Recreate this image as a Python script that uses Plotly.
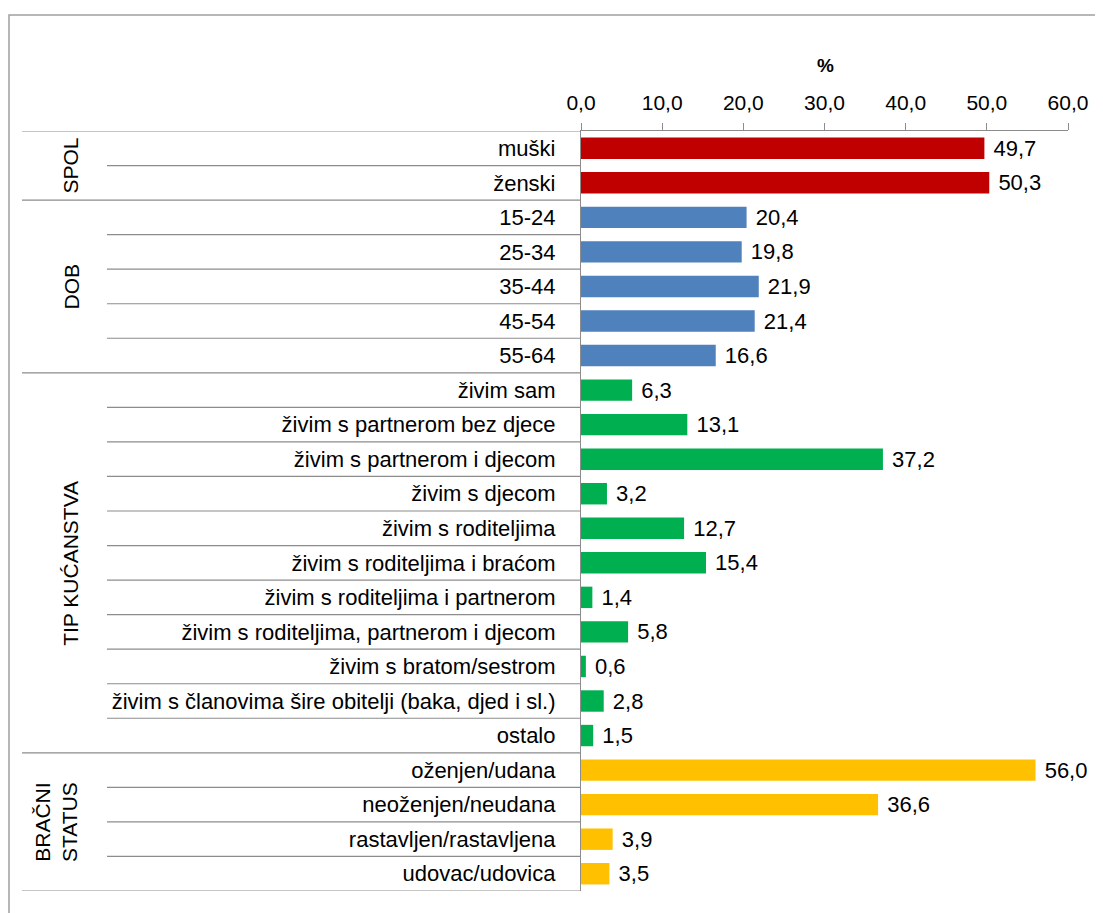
import plotly.graph_objects as go

# ---- data ----
groups = ["SPOL", "DOB", "TIP KUĆANSTVA", "BRAČNI<br>STATUS"]
spol_cats = ["muški", "ženski"]
spol_vals = [49.7, 50.3]
dob_cats = ["15-24", "25-34", "35-44", "45-54", "55-64"]
dob_vals = [20.4, 19.8, 21.9, 21.4, 16.6]
tip_cats = ["živim sam", "živim s partnerom bez djece", "živim s partnerom i djecom",
            "živim s djecom", "živim s roditeljima", "živim s roditeljima i braćom",
            "živim s roditeljima i partnerom", "živim s roditeljima, partnerom i djecom",
            "živim s bratom/sestrom", "živim s članovima šire obitelji (baka, djed i sl.)",
            "ostalo"]
tip_vals = [6.3, 13.1, 37.2, 3.2, 12.7, 15.4, 1.4, 5.8, 0.6, 2.8, 1.5]
brak_cats = ["oženjen/udana", "neoženjen/neudana", "rastavljen/rastavljena", "udovac/udovica"]
brak_vals = [56.0, 36.6, 3.9, 3.5]
colors = ["#C00000", "#4F81BD", "#00B050", "#FFC000"]
x_ticks = [0, 10, 20, 30, 40, 50, 60]

group_cats = [spol_cats, dob_cats, tip_cats, brak_cats]
group_vals = [spol_vals, dob_vals, tip_vals, brak_vals]
all_cats = [c for g in group_cats for c in g]

# ---- layout geometry (pixels, page has an 8px body margin) ----
OFF = 8
W_FIG, H_FIG = 1103, 913
PLOT_X0, PLOT_X1 = 581, 1068
PLOT_Y0, PLOT_Y1 = 131, 891
L = PLOT_X0 - OFF
R = W_FIG + OFF - PLOT_X1
T = PLOT_Y0 - OFF
B = H_FIG + OFF - PLOT_Y1
PW = PLOT_X1 - PLOT_X0
PH = PLOT_Y1 - PLOT_Y0


def px_x(px):
    return (px - PLOT_X0) / PW


def px_y(py):
    return (PLOT_Y1 - py) / PH


FONT = "Liberation Sans, Arial, sans-serif"
GRAY = "#8C8C8C"

fig = go.Figure()
for cats, vals, col in zip(group_cats, group_vals, colors):
    fig.add_trace(go.Bar(
        y=cats, x=vals, orientation="h",
        marker=dict(color=col, line=dict(width=0)),
        width=0.62,
        texttemplate="\u00a0%{x:.1f}",
        textposition="outside",
        constraintext="none",
        cliponaxis=False,
        textfont=dict(family=FONT, size=22, color="black"),
        hoverinfo="skip",
        showlegend=False,
    ))

shapes = []
annotations = []

# outer border
shapes.append(dict(type="rect", xref="paper", yref="paper",
                   x0=px_x(9), x1=px_x(W_FIG + 20), y0=px_y(H_FIG + 20), y1=px_y(15),
                   line=dict(color="#A0A0A0", width=1.5), fillcolor="rgba(0,0,0,0)"))

# separators in label area
idx = 0
boundaries_group = [-0.5]
for gi, cats in enumerate(group_cats):
    for k in range(1, len(cats)):
        y = idx + k - 0.5
        shapes.append(dict(type="line", xref="paper", yref="y",
                           x0=px_x(107), x1=0, y0=y, y1=y,
                           line=dict(color=GRAY, width=1.2)))
    center = idx + (len(cats) - 1) / 2
    annotations.append(dict(text=groups[gi], xref="paper", yref="y",
                            x=px_x(71 if "<br>" not in groups[gi] else 56), y=center,
                            textangle=-90, showarrow=False,
                            font=dict(family=FONT, size=21, color="black"),
                            xanchor="center", yanchor="middle"))
    idx += len(cats)
    boundaries_group.append(idx - 0.5)

for y in boundaries_group:
    shapes.append(dict(type="line", xref="paper", yref="y",
                       x0=px_x(22), x1=0, y0=y, y1=y,
                       line=dict(color=GRAY, width=1.2)))

# "%" axis title
annotations.append(dict(text="<b>%</b>", xref="paper", yref="paper",
                        x=px_x(825), y=px_y(65), showarrow=False,
                        font=dict(family=FONT, size=19, color="black"),
                        xanchor="center", yanchor="middle"))

fig.update_layout(
    width=W_FIG, height=H_FIG,
    margin=dict(l=L, r=R, t=T, b=B, pad=0),
    paper_bgcolor="white", plot_bgcolor="white",
    barmode="overlay",
    separators=",.",
    shapes=shapes,
    annotations=annotations,
    xaxis=dict(side="top", range=[0, 60], tickvals=x_ticks, tickformat=".1f",
               showgrid=False, zeroline=False,
               showline=True, linecolor=GRAY, linewidth=1.2,
               ticks="outside", ticklen=7, tickcolor=GRAY, tickwidth=1.2,
               ticklabelstandoff=5,
               tickfont=dict(family=FONT, size=21, color="black")),
    yaxis=dict(type="category", categoryorder="array", categoryarray=all_cats,
               range=[len(all_cats) - 0.5, -0.5],
               showgrid=False, zeroline=False,
               showline=True, linecolor=GRAY, linewidth=1.2,
               ticks="", ticklabelstandoff=20,
               tickfont=dict(family=FONT, size=22, color="black")),
)

fig.write_html("out.html")
